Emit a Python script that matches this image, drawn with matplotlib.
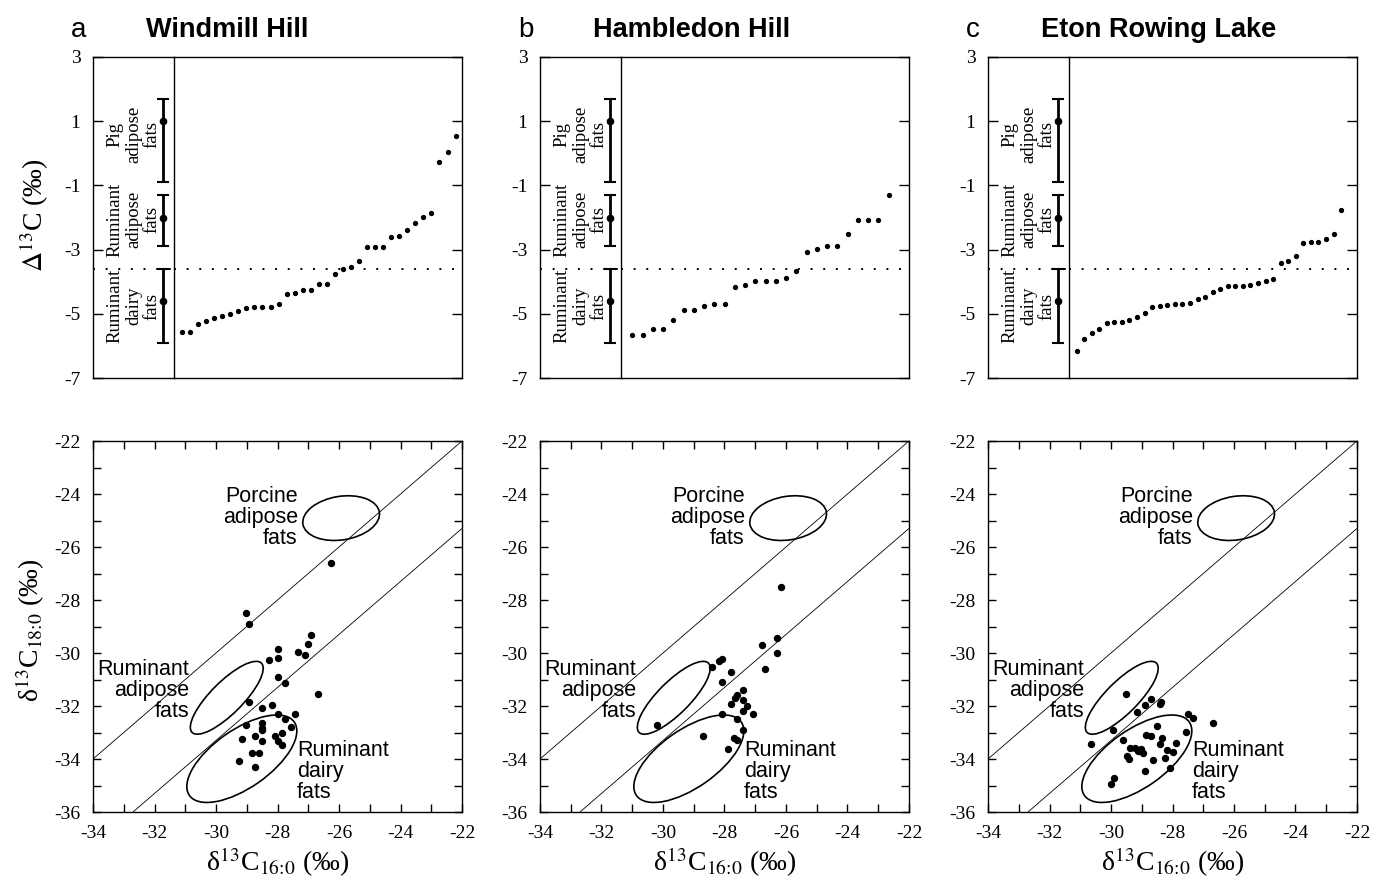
import matplotlib
matplotlib.use('Agg')
import matplotlib.pyplot as plt
from matplotlib.patches import Ellipse
from matplotlib.transforms import Affine2D
from matplotlib.ticker import MultipleLocator

plt.rcParams['font.family'] = 'Liberation Serif'
plt.rcParams['mathtext.fontset'] = 'stix'
plt.rcParams['axes.unicode_minus'] = False

# site names and panel letters
letters = ['a', 'b', 'c']
sites = ['Windmill Hill', 'Hambledon Hill', 'Eton Rowing Lake']

# top row: sorted delta13C (C18:0 - C16:0) per site
big_a = [-5.56, -5.56, -5.33, -5.23, -5.13, -5.08, -5.01, -4.91, -4.81, -4.79, -4.79, -4.79,
         -4.70, -4.39, -4.36, -4.27, -4.27, -4.06, -4.06, -3.77, -3.61, -3.53, -3.34, -2.92,
         -2.92, -2.92, -2.60, -2.57, -2.39, -2.18, -1.98, -1.85, -0.28, 0.05, 0.55]
big_b = [-5.66, -5.66, -5.48, -5.48, -5.18, -4.87, -4.87, -4.76, -4.68, -4.68, -4.18, -4.09,
         -3.99, -3.97, -3.97, -3.88, -3.66, -3.08, -2.98, -2.89, -2.89, -2.50, -2.09, -2.09,
         -2.09, -1.30]
big_c = [-6.17, -5.80, -5.60, -5.47, -5.29, -5.26, -5.25, -5.20, -5.10, -4.98, -4.78, -4.75,
         -4.72, -4.68, -4.68, -4.66, -4.55, -4.48, -4.32, -4.22, -4.14, -4.13, -4.13, -4.10,
         -4.04, -3.97, -3.91, -3.42, -3.34, -3.21, -2.78, -2.77, -2.75, -2.68, -2.52, -1.78]

# reference ranges for the top row
ref_names = ['Pig\nadipose\nfats', 'Ruminant\nadipose\nfats', 'Ruminant\ndairy\nfats']
ref_mid = [1.0, -2.0, -4.6]
ref_lo = [-0.9, -2.9, -5.9]
ref_hi = [1.7, -1.3, -3.6]
ref_text_y = [0.6, -2.06, -4.76]
dairy_cut = -3.6

# bottom row: delta13C C16:0 and C18:0 per site
c16_a = [-26.25, -29.04, -28.93, -26.90, -27.01, -27.97, -27.33, -27.12, -27.97, -28.29, -27.97, -27.77,
         -26.68, -28.94, -28.19, -28.50, -27.97, -27.44, -27.77, -29.04, -28.50, -28.50, -28.50, -27.55,
         -28.72, -28.07, -27.86, -29.14, -28.50, -27.97, -27.86, -28.83, -28.61, -29.25, -28.72]
c18_a = [-26.59, -28.48, -28.89, -29.32, -29.65, -29.86, -29.96, -30.09, -30.17, -30.28, -30.90, -31.12,
         -31.53, -31.85, -31.97, -32.06, -32.29, -32.29, -32.49, -32.70, -32.63, -32.82, -32.92, -32.81,
         -33.12, -33.12, -33.02, -33.23, -33.33, -33.33, -33.46, -33.77, -33.77, -34.09, -34.29]
c16_b = [-26.17, -26.28, -26.77, -26.28, -28.09, -28.18, -28.40, -26.68, -27.80, -28.09, -27.39, -27.58,
         -27.66, -27.39, -27.80, -27.28, -27.39, -28.08, -27.08, -27.58, -30.21, -27.39, -28.69, -27.68,
         -27.58, -27.88]
c18_b = [-27.52, -29.42, -29.71, -30.01, -30.21, -30.30, -30.52, -30.60, -30.70, -31.10, -31.41, -31.58,
         -31.69, -31.79, -31.91, -32.00, -32.19, -32.31, -32.31, -32.50, -32.70, -32.92, -33.13, -33.20,
         -33.30, -33.63]
c16_c = [-29.50, -28.71, -28.38, -28.42, -28.90, -29.16, -27.50, -27.32, -26.68, -28.49, -29.95, -27.57,
         -28.85, -28.71, -28.33, -29.60, -30.66, -28.42, -27.90, -29.38, -29.23, -29.03, -29.12, -28.96,
         -28.19, -28.00, -29.47, -29.41, -28.65, -28.24, -28.08, -28.90, -29.90, -30.01]
c18_c = [-31.56, -31.75, -31.84, -31.94, -31.97, -32.21, -32.29, -32.44, -32.63, -32.75, -32.91, -32.98,
         -33.11, -33.15, -33.22, -33.30, -33.45, -33.45, -33.41, -33.57, -33.57, -33.63, -33.70, -33.76,
         -33.67, -33.72, -33.89, -34.01, -34.05, -33.97, -34.35, -34.45, -34.73, -34.96]

# offsets of the two reference lines (C18:0 = C16:0 + offset)
line_offsets = [0.0, -3.3]

# reference ellipses
ell_names = ['Porcine\nadipose\nfats', 'Ruminant\nadipose\nfats', 'Ruminant\ndairy\nfats']
ell_cx = [-25.93, -29.65, -29.16]
ell_cy = [-24.91, -31.69, -33.99]
ell_semi_major = [38.7, 49.0, 64.0]
ell_semi_minor = [21.8, 16.0, 29.0]
ell_angle = [9, 45, 35]
lab_x = [-27.34, -30.88, -27.37]
lab_y = [-24.9, -31.4, -34.49]
lab_ha = ['right', 'right', 'left']

big_all = [big_a, big_b, big_c]
c16_all = [c16_a, c16_b, c16_c]
c18_all = [c18_a, c18_b, c18_c]
top_xlim = [(0, 35.8), (-0.1, 28.0), (0, 38.1)]

W, H = 1376, 883
fig = plt.figure(figsize=(W / 100, H / 100), dpi=100)


def box(x0, y0, x1, y1):
    return [x0 / W, 1 - y1 / H, (x1 - x0) / W, (y1 - y0) / H]


lefts = [93, 540, 988]
SX, SY = 30.75, 26.5  # px per unit in the bottom panels

for k in range(3):
    x0 = lefts[k]
    # ---------- top row ----------
    axl = fig.add_axes(box(x0, 57, x0 + 81, 378))
    axr = fig.add_axes(box(x0 + 81, 57, x0 + 369, 378))
    for ax in (axl, axr):
        ax.set_ylim(-7, 3)
        ax.set_yticks([3, 1, -1, -3, -5, -7])
        ax.set_xticks([])
        ax.axhline(dairy_cut, color='black', lw=1.4, ls=(0, (1, 5.5)))
        for s in ax.spines.values():
            s.set_linewidth(1.0)
    axl.set_xlim(0, 1)
    axl.spines['right'].set_visible(False)
    axl.tick_params(axis='y', direction='in', length=7, width=1, pad=9, labelsize=14)
    axr.tick_params(axis='y', direction='in', length=7, width=1, left=False, right=True,
                    labelleft=False)
    for i in range(3):
        axl.errorbar(0.86, ref_mid[i], yerr=[[ref_mid[i] - ref_lo[i]], [ref_hi[i] - ref_mid[i]]],
                     fmt='o', color='black', ms=4.5, lw=2.0, capsize=4, capthick=1.5)
        axl.text(0.5, ref_text_y[i], ref_names[i], rotation=90, ha='center', va='center',
                 multialignment='center', fontsize=13.5, linespacing=1.1)
    vals = big_all[k]
    axr.plot(range(1, len(vals) + 1), vals, 'o', color='black', ms=2.8, ls='none')
    axr.set_xlim(*top_xlim[k])

    if k == 0:
        fig.text(34 / W, 1 - 215 / H, r'$\Delta^{13}$C (‰)', rotation=90, ha='center', va='center',
                 fontsize=20)

    fig.text((x0 - 22) / W, 1 - 37 / H, letters[k], fontfamily='Liberation Sans', fontsize=20,
             va='baseline', ha='left')
    fig.text((x0 + 53) / W, 1 - 37 / H, sites[k], fontfamily='Liberation Sans', fontsize=19.5,
             fontweight='bold', va='baseline', ha='left')

    # ---------- bottom row ----------
    ax = fig.add_axes(box(x0, 441, x0 + 369, 812))
    ax.set_xlim(-34, -22)
    ax.set_ylim(-36, -22)
    ax.xaxis.set_major_locator(MultipleLocator(2))
    ax.xaxis.set_minor_locator(MultipleLocator(1))
    ax.yaxis.set_major_locator(MultipleLocator(2))
    ax.yaxis.set_minor_locator(MultipleLocator(1))
    ax.tick_params(which='both', direction='in', top=True, right=True, length=6, width=1,
                   labelsize=14, pad=9)
    for s in ax.spines.values():
        s.set_linewidth(1.0)
    for off in line_offsets:
        ax.axline((0, off), slope=1, color='black', lw=0.6)
    tr = Affine2D().scale(1 / SX, 1 / SY) + ax.transData
    for i in range(3):
        e = Ellipse((ell_cx[i] * SX, ell_cy[i] * SY), 2 * ell_semi_major[i], 2 * ell_semi_minor[i],
                    angle=ell_angle[i], fill=False, edgecolor='black', lw=1.2, transform=tr)
        ax.add_patch(e)
        ax.text(lab_x[i], lab_y[i], ell_names[i], ha=lab_ha[i], va='center',
                multialignment=lab_ha[i], fontfamily='Liberation Sans', fontsize=15.5, linespacing=1.0)
    ax.plot(c16_all[k], c18_all[k], 'o', color='black', ms=4.3, ls='none')
    ax.set_xlabel(r'δ$^{13}$C$_{16\!:\!0}$ (‰)', fontsize=20, labelpad=3)

    if k == 0:
        fig.text(30 / W, 1 - 630 / H, r'δ$^{13}$C$_{18\!:\!0}$ (‰)', rotation=90, ha='center',
                 va='center', fontsize=20)

fig.savefig('out.png', dpi=100)
